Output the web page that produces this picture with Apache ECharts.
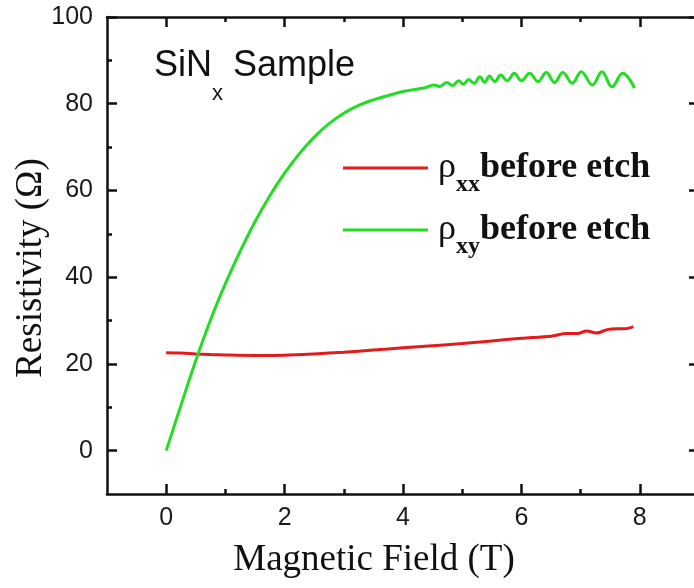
<!DOCTYPE html>
<html>
<head>
<meta charset="utf-8">
<script src="https://cdn.jsdelivr.net/npm/echarts@6/dist/echarts.min.js"></script>
<style>html,body{margin:0;padding:0;background:#fff;}#c{width:694px;height:588px;}</style>
</head>
<body>
<div id="c"></div>
<script>
// ---- data ----
const seriesNames = ['ρxx before etch', 'ρxy before etch'];
const fieldXX = [0, 0.25, 0.5, 0.75, 1.0, 1.5, 2.0, 2.5, 3.0, 3.5, 4.0, 4.5, 5.0, 5.5, 6.0, 6.5, 6.77, 6.95, 7.1, 7.27, 7.45, 7.61, 7.75, 7.89];
const rhoXX   = [22.6, 22.5, 22.3, 22.15, 22.05, 21.95, 22.0, 22.3, 22.7, 23.2, 23.7, 24.2, 24.7, 25.3, 25.9, 26.4, 27.0, 27.0, 27.6, 27.1, 27.9, 28.1, 28.1, 28.6];
const fieldXY = [0, 0.25, 0.5, 0.75, 1.0, 1.25, 1.5, 1.75, 2.0, 2.25, 2.5, 2.75, 3.0, 3.25, 3.5, 3.75, 4.0, 4.25, 4.4, 4.52, 4.62, 4.74, 4.84, 4.94, 5.02, 5.11, 5.20, 5.30, 5.38, 5.46, 5.55, 5.65, 5.76, 5.88, 6.0, 6.14, 6.28, 6.42, 6.56, 6.70, 6.86, 7.01, 7.20, 7.36, 7.53, 7.71, 7.91];
const rhoXY   = [0, 10.5, 20.8, 30.2, 38.5, 46.0, 52.8, 58.8, 64.0, 68.5, 72.3, 75.4, 77.8, 79.6, 80.9, 81.9, 82.8, 83.4, 83.8, 84.3, 84.0, 84.9, 84.2, 85.3, 84.5, 85.6, 84.7, 86.2, 84.9, 86.4, 85.1, 86.6, 85.3, 87.0, 85.3, 87.0, 85.1, 87.2, 84.9, 87.2, 84.7, 87.4, 84.3, 87.4, 83.9, 87.0, 83.6];
const xMajor = [0, 2, 4, 6, 8];
const xMinor = [1, 3, 5, 7];
const yMajor = [0, 20, 40, 60, 80, 100];
const yMinor = [10, 30, 50, 70, 90];

const pair = (xs, ys) => xs.map((x, i) => [x, ys[i]]);
const black = '#111';
const lineW = 2.5;
const sans = '"Liberation Sans", Arial, sans-serif';
const serif = '"Liberation Serif", "Times New Roman", serif';

function xAx(pos, vals, len, showLine, showLabel) {
  return {
    type: 'value', min: -1, max: 9, interval: 1, position: pos,
    splitLine: {show: false},
    axisLine: {show: showLine, onZero: false, lineStyle: {color: black, width: lineW}},
    axisTick: {show: true, inside: true, length: len, customValues: vals, lineStyle: {color: black, width: lineW}},
    axisLabel: showLabel ? {show: true, customValues: vals, margin: 12, color: '#1a1a1a', fontSize: 25, fontFamily: sans} : {show: false}
  };
}
function yAx(pos, vals, len, showLine, showLabel) {
  return {
    type: 'value', min: -10, max: 100, interval: 10, position: pos,
    splitLine: {show: false},
    axisLine: {show: showLine, onZero: false, lineStyle: {color: black, width: lineW}},
    axisTick: {show: true, inside: true, length: len, customValues: vals, lineStyle: {color: black, width: lineW}},
    axisLabel: showLabel ? {show: true, customValues: vals, margin: 14, color: '#1a1a1a', fontSize: 25, fontFamily: sans} : {show: false}
  };
}

const chart = echarts.init(document.getElementById('c'), null, {renderer: 'canvas'});
chart.setOption({
  backgroundColor: '#fff',
  animation: false,
  grid: {left: 107, top: 17, width: 592, height: 477, containLabel: false, outerBoundsMode: 'none'},
  xAxis: [
    xAx('bottom', xMajor, 10, true, true),
    xAx('bottom', xMinor, 5, false, false),
    xAx('top', xMajor, 10, true, false),
    xAx('top', xMinor, 5, false, false)
  ],
  yAxis: [
    yAx('left', yMajor, 10, true, true),
    yAx('left', yMinor, 5, false, false),
    yAx('right', yMajor, 10, true, false),
    yAx('right', yMinor, 5, false, false)
  ],
  legend: {
    orient: 'vertical', left: 338, top: 145, itemWidth: 85, itemHeight: 3, itemGap: 15,
    icon: 'rect', selectedMode: false,
    data: seriesNames,
    formatter: function (name) {
      const sub = name.slice(1, 3);
      return '{r|ρ}{s|' + sub + '}{b|before etch}';
    },
    textStyle: {
      color: '#111',
      rich: {
        r: {fontFamily: serif, fontSize: 36, fontWeight: 'normal', color: '#111', padding: [0, 0, 0, 5]},
        s: {fontFamily: serif, fontSize: 24, fontWeight: 'bold', color: '#111', padding: [34, 0, 0, 0]},
        b: {fontFamily: serif, fontSize: 36, fontWeight: 'bold', color: '#111'}
      }
    }
  },
  graphic: [
    {type: 'text', x: 374, y: 560, style: {text: 'Magnetic Field (T)', fontFamily: serif, fontSize: 37, fill: '#111', align: 'center', verticalAlign: 'middle'}},
    {type: 'text', x: 31, y: 268, rotation: Math.PI / 2, style: {text: 'Resistivity (Ω)', fontFamily: serif, fontSize: 37, fill: '#111', align: 'center', verticalAlign: 'middle'}},
    {type: 'text', x: 154, y: 66, style: {
      text: '{a|SiN}{s|x}{a| Sample}', align: 'left', verticalAlign: 'middle',
      rich: {
        a: {fontFamily: sans, fontSize: 36, fill: '#111', color: '#111'},
        s: {fontFamily: sans, fontSize: 22, fill: '#111', color: '#111', padding: [56, 0, 0, 0]}
      }
    }}
  ],
  series: [
    {name: seriesNames[0], type: 'line', xAxisIndex: 0, yAxisIndex: 0, data: pair(fieldXX, rhoXX), smooth: 0.3, showSymbol: false, symbol: 'none', lineStyle: {color: '#e31b1b', width: 3}, itemStyle: {color: '#e31b1b'}},
    {name: seriesNames[1], type: 'line', xAxisIndex: 0, yAxisIndex: 0, data: pair(fieldXY, rhoXY), smooth: 0.4, showSymbol: false, symbol: 'none', lineStyle: {color: '#22dd22', width: 3}, itemStyle: {color: '#22dd22'}}
  ]
});
</script>
</body>
</html>
